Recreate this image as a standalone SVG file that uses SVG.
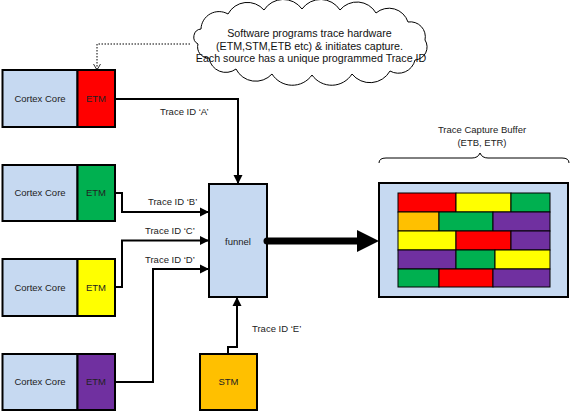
<svg xmlns="http://www.w3.org/2000/svg" width="570" height="412" viewBox="0 0 570 412">
<style>
.box{stroke:#000;stroke-width:2}
.lbl{font-family:"Liberation Sans",Arial,sans-serif;font-size:9.5px;fill:#222;text-anchor:middle}
.tl{font-family:"Liberation Sans",Arial,sans-serif;font-size:9.5px;fill:#222}
.conn{fill:none;stroke:#000;stroke-width:2}
.cell{stroke:#000;stroke-width:1}
.core{fill:#c6d9f1}
</style>
<defs>
<marker id="ah" markerWidth="10" markerHeight="10" refX="9" refY="5" orient="auto" markerUnits="userSpaceOnUse">
<path d="M0,0.5 L9,5 L0,9.5 Z" fill="#000"/>
</marker>
<marker id="oa" markerWidth="8" markerHeight="8" refX="7" refY="4" orient="auto" markerUnits="userSpaceOnUse">
<path d="M1,0.5 L7,4 L1,7.5" fill="none" stroke="#000" stroke-width="0.8"/>
</marker>
</defs>
<rect width="570" height="412" fill="#fff"/>

<g id="cloud">
<path d="M201,29 A18,18 0 0 1 228,14 A22,22 0 0 1 264,10 A23,23 0 0 1 302,9 A23,23 0 0 1 340,10 A22,22 0 0 1 376,13 A20,20 0 0 1 408,22 A15,15 0 0 1 425,40 A13,13 0 0 1 415,60 A17,17 0 0 1 390,71 A23,23 0 0 1 352,74 A24,24 0 0 1 312,75 A24,24 0 0 1 272,74 A22,22 0 0 1 236,69 A17,17 0 0 1 209,58 A11,11 0 0 1 198,44 A8,8 0 0 1 201,29 Z" fill="#fff" stroke="#000" stroke-width="1"/>
<text font-family="'Liberation Sans',Arial,sans-serif" font-size="10.7" fill="#111" text-anchor="middle">
<tspan x="311" y="37">Software programs trace hardware</tspan>
<tspan x="311" y="49.5">(ETM,STM,ETB etc) &amp; initiates capture.</tspan>
<tspan x="311" y="62">Each source has a unique programmed Trace ID</tspan>
</text>
</g>

<g id="core1">
<rect class="box core" x="2.5" y="70" width="75" height="57"/>
<rect class="box" x="77.5" y="70" width="37.5" height="57" fill="#ff0000"/>
<text class="lbl" x="40" y="101.5">Cortex Core</text>
<text class="lbl" x="96" y="101.5">ETM</text>
</g>
<g id="core2">
<rect class="box core" x="2.5" y="165" width="75" height="56"/>
<rect class="box" x="77.5" y="165" width="37.5" height="56" fill="#00b050"/>
<text class="lbl" x="40" y="196">Cortex Core</text>
<text class="lbl" x="96" y="196">ETM</text>
</g>
<g id="core3">
<rect class="box core" x="2.5" y="259" width="75" height="57"/>
<rect class="box" x="77.5" y="259" width="37.5" height="57" fill="#ffff00"/>
<text class="lbl" x="40" y="290.5">Cortex Core</text>
<text class="lbl" x="96" y="290.5">ETM</text>
</g>
<g id="core4">
<rect class="box core" x="2.5" y="354" width="75" height="56"/>
<rect class="box" x="77.5" y="354" width="37.5" height="56" fill="#7030a0"/>
<text class="lbl" x="40" y="385">Cortex Core</text>
<text class="lbl" x="96" y="385">ETM</text>
</g>

<g id="funnel">
<rect class="box core" x="209" y="184" width="58" height="113"/>
<text class="lbl" x="238" y="244.5">funnel</text>
</g>

<g id="stm">
<rect class="box" x="200" y="354" width="57" height="56" fill="#ffc000"/>
<text class="lbl" x="228.5" y="385">STM</text>
</g>

<g id="buffer">
<rect class="box core" x="379" y="183" width="189" height="114"/>
<g class="cell">
<rect x="398" y="193" width="58" height="19" fill="#ff0000"/>
<rect x="456" y="193" width="55" height="19" fill="#ffff00"/>
<rect x="511" y="193" width="39" height="19" fill="#00b050"/>
<rect x="398" y="212" width="41" height="19" fill="#ffc000"/>
<rect x="439" y="212" width="54" height="19" fill="#00b050"/>
<rect x="493" y="212" width="57" height="19" fill="#7030a0"/>
<rect x="398" y="231" width="58" height="19" fill="#ffff00"/>
<rect x="456" y="231" width="55" height="19" fill="#ff0000"/>
<rect x="511" y="231" width="39" height="19" fill="#7030a0"/>
<rect x="398" y="250" width="58" height="19" fill="#7030a0"/>
<rect x="456" y="250" width="39" height="19" fill="#00b050"/>
<rect x="495" y="250" width="55" height="19" fill="#ffff00"/>
<rect x="398" y="269" width="41" height="18" fill="#00b050"/>
<rect x="439" y="269" width="54" height="18" fill="#ff0000"/>
<rect x="493" y="269" width="57" height="18" fill="#7030a0"/>
</g>
<path d="M379,163 Q379,158 386,158 L472,158 Q478,158 480,153 Q482,158 488,158 L562,158 Q569,158 569,163" fill="none" stroke="#000" stroke-width="1"/>
<text class="lbl" x="482" y="133">Trace Capture Buffer</text>
<text class="lbl" x="482" y="145.5">(ETB, ETR)</text>
</g>

<g id="connectors">
<path class="conn" d="M115,99 H238 V184" marker-end="url(#ah)"/>
<path class="conn" d="M115,193 H122 V212 H209" marker-end="url(#ah)"/>
<path class="conn" d="M115,287 H122 V240.5 H209" marker-end="url(#ah)"/>
<path class="conn" d="M115,382 H153 V269 H209" marker-end="url(#ah)"/>
<path class="conn" d="M228,354 V347 H237 V297" marker-end="url(#ah)"/>
<path d="M190,44 H97 V70" fill="none" stroke="#000" stroke-width="1" stroke-dasharray="1.5,1.5" marker-end="url(#oa)"/>
<line x1="267" y1="241" x2="359" y2="241" stroke="#000" stroke-width="7" stroke-linecap="round"/>
<path d="M357,230 L379,241 L357,252 Z" fill="#000"/>
<text class="tl" x="160" y="115">Trace ID ‘A’</text>
<text class="tl" x="148" y="204.5">Trace ID ‘B’</text>
<text class="tl" x="145" y="233.5">Trace ID ‘C’</text>
<text class="tl" x="145" y="263">Trace ID ‘D’</text>
<text class="tl" x="252" y="332">Trace ID ‘E’</text>
</g>
</svg>
